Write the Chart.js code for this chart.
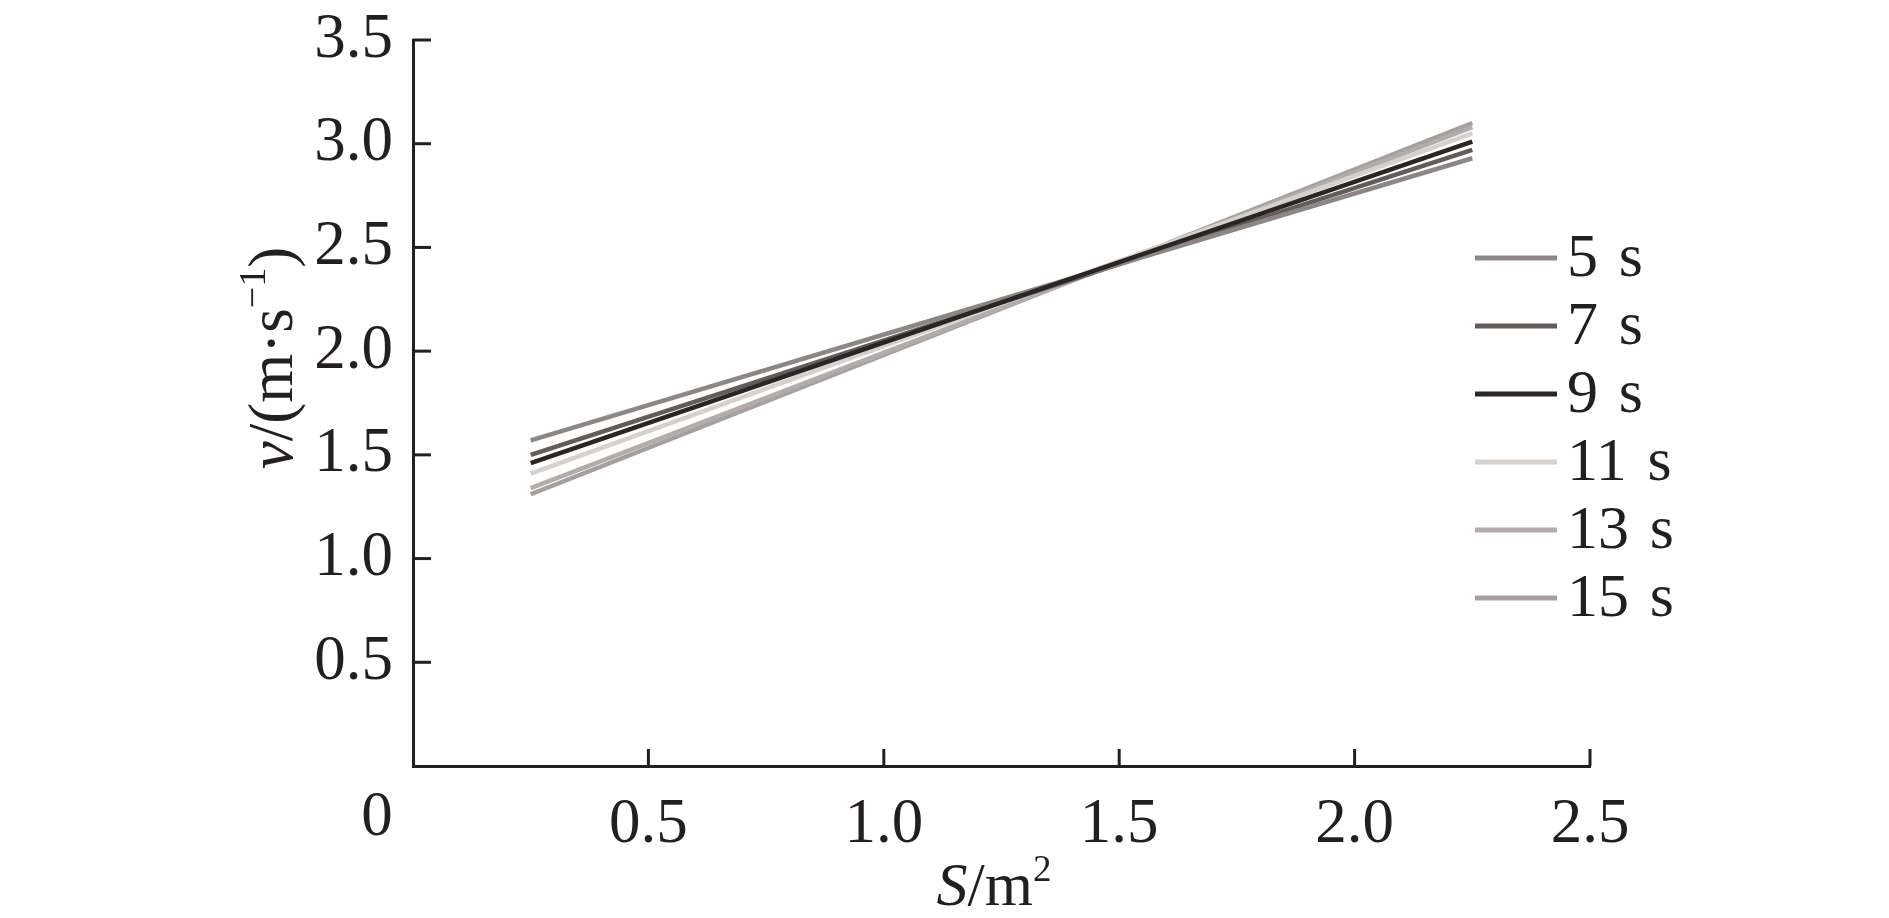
<!DOCTYPE html>
<html>
<head>
<meta charset="utf-8">
<script src="https://cdn.jsdelivr.net/npm/chart.js@4"></script>
<style>
  html, body { margin: 0; padding: 0; background: #fff; }
  #wrap { width: 1889px; height: 918px; position: relative; }
</style>
</head>
<body>
<div id="wrap"><canvas id="chart"></canvas></div>
<script>
// S (m^2) at the two ends of each fitted line
const areaS = [0.25, 2.25];

const seriesLabels = ['5 s', '7 s', '9 s', '11 s', '13 s', '15 s'];
const v5 = [1.57, 2.93];
const v7 = [1.50, 2.97];
const v9 = [1.46, 3.01];
const v11 = [1.41, 3.05];
const v13 = [1.34, 3.08];
const v15 = [1.31, 3.10];
const seriesValues = [v5, v7, v9, v11, v13, v15];
const seriesColors = ['#8c8785', '#635c59', '#2b2624', '#d6d1cd', '#b3acaa', '#a59f9e'];

const xTicks = [0, 0.5, 1.0, 1.5, 2.0, 2.5];
const yTicks = [0, 0.5, 1.0, 1.5, 2.0, 2.5, 3.0, 3.5];

const ink = '#231f20';
const serif = '"Liberation Serif", "Times New Roman", serif';

// inward tick marks, "0" at origin, axis titles and legend
const decor = {
	id: 'decor',
	afterDraw(chart) {
		const ctx = chart.ctx;
		const xs = chart.scales.x;
		const ys = chart.scales.y;
		ctx.save();
		ctx.strokeStyle = ink;
		ctx.lineWidth = 3;
		yTicks.forEach(v => {
			if (v === 0) return;
			const py = ys.getPixelForValue(v);
			ctx.beginPath();
			ctx.moveTo(xs.left, py);
			ctx.lineTo(xs.left + 18, py);
			ctx.stroke();
		});
		xTicks.forEach(v => {
			if (v === 0) return;
			const px = xs.getPixelForValue(v);
			ctx.beginPath();
			ctx.moveTo(px, ys.bottom);
			ctx.lineTo(px, ys.bottom - 17);
			ctx.stroke();
		});

		ctx.fillStyle = ink;
		ctx.textBaseline = 'middle';
		ctx.textAlign = 'center';
		ctx.font = '63px ' + serif;
		ctx.fillText('0', xs.getPixelForValue(0) - 36, 818);

		// x title: S/m²
		ctx.textAlign = 'left';
		let parts = [
			['italic 62px ' + serif, 'S', 0],
			['62px ' + serif, '/m', 0],
			['37px ' + serif, '2', -18],
		];
		let w = 0;
		parts.forEach(p => { ctx.font = p[0]; w += ctx.measureText(p[1]).width; });
		let cx = 994 - w / 2;
		parts.forEach(p => {
			ctx.font = p[0];
			ctx.fillText(p[1], cx, 889 + p[2]);
			cx += ctx.measureText(p[1]).width;
		});

		// y title: v/(m·s⁻¹)
		ctx.save();
		ctx.translate(275, 358);
		ctx.rotate(-Math.PI / 2);
		parts = [
			['italic 63px ' + serif, 'v', 0],
			['63px ' + serif, '/(m·s', 0],
			['38px ' + serif, '−1', -20],
			['63px ' + serif, ')', 0],
		];
		w = 0;
		parts.forEach(p => { ctx.font = p[0]; w += ctx.measureText(p[1]).width; });
		cx = -w / 2;
		parts.forEach(p => {
			ctx.font = p[0];
			ctx.fillText(p[1], cx, p[2]);
			cx += ctx.measureText(p[1]).width;
		});
		ctx.restore();

		// legend
		ctx.font = '62px ' + serif;
		seriesLabels.forEach((lab, i) => {
			const ly = 258 + i * 68;
			ctx.strokeStyle = seriesColors[i];
			ctx.lineWidth = 5;
			ctx.beginPath();
			ctx.moveTo(1475, ly);
			ctx.lineTo(1557, ly);
			ctx.stroke();
			ctx.fillStyle = ink;
			ctx.fillText(lab.replace(' ', ' \u200A'), 1567, ly + 2);
		});
		ctx.restore();
	}
};

function chartIt() {
	const ctx = document.getElementById('chart').getContext('2d');
	const datasets = seriesLabels.map((lab, i) => ({
		label: lab,
		data: areaS.map((s, j) => ({ x: s, y: seriesValues[i][j] })),
		borderColor: seriesColors[i],
		backgroundColor: seriesColors[i],
		borderWidth: 4.5,
		pointRadius: 0,
		fill: false,
		order: i === 2 ? 0 : 1,
	}));

	new Chart(ctx, {
		type: 'line',
		data: { datasets: datasets },
		options: {
			responsive: true,
			maintainAspectRatio: false,
			animation: false,
			layout: { padding: { top: 40, right: 299, left: 0, bottom: 0 } },
			plugins: {
				legend: { display: false },
				tooltip: { enabled: false },
			},
			scales: {
				x: {
					type: 'linear',
					min: 0,
					max: 2.5,
					afterFit: s => { s.height = 152; s.paddingRight = 0; s.paddingLeft = 0; },
					afterBuildTicks: s => { s.ticks = xTicks.map(v => ({ value: v })); },
					grid: { display: false, drawTicks: false },
					border: { display: true, color: ink, width: 3 },
					ticks: {
						color: ink,
						padding: 22,
						maxRotation: 0,
						font: { family: serif, size: 63 },
						callback: v => (v === 0 ? '' : v.toFixed(1)),
					},
				},
				y: {
					type: 'linear',
					min: 0,
					max: 3.5,
					afterFit: s => { s.width = 413; s.paddingTop = 0; s.paddingBottom = 0; },
					afterBuildTicks: s => { s.ticks = yTicks.map(v => ({ value: v })); },
					grid: { display: false, drawTicks: false },
					border: { display: true, color: ink, width: 3 },
					ticks: {
						color: ink,
						padding: 20,
						font: { family: serif, size: 63 },
						callback: v => (v === 0 ? '' : v.toFixed(1)),
					},
				},
			},
		},
		plugins: [decor],
	});
}

chartIt();
</script>
</body>
</html>
